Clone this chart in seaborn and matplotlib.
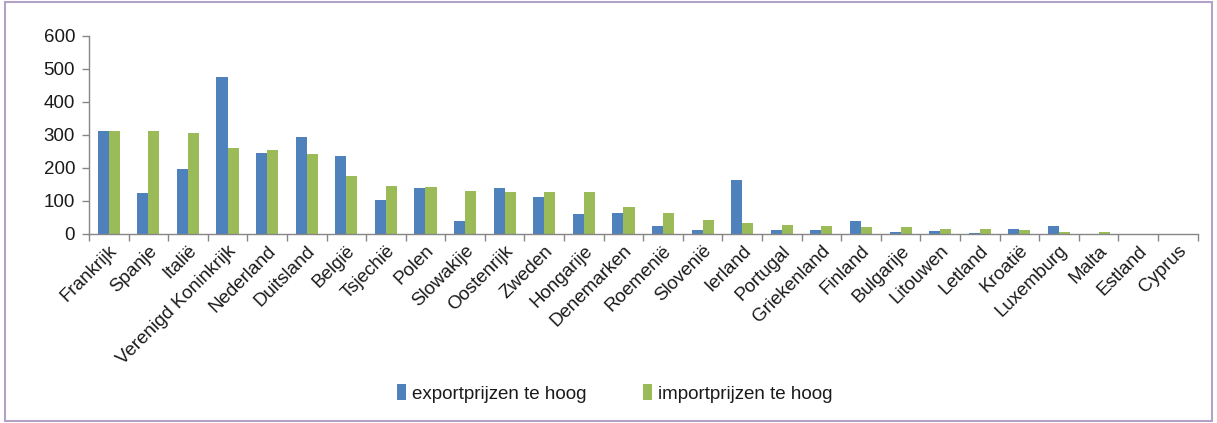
import matplotlib
matplotlib.use("Agg")
import matplotlib.pyplot as plt
import seaborn as sns
import pandas as pd
import numpy as np
from matplotlib.patches import Rectangle

countries = ["Frankrijk", "Spanje", "Italië", "Verenigd Koninkrijk", "Nederland", "Duitsland",
             "België", "Tsjechië", "Polen", "Slowakije", "Oostenrijk", "Zweden", "Hongarije",
             "Denemarken", "Roemenië", "Slovenië", "Ierland", "Portugal", "Griekenland",
             "Finland", "Bulgarije", "Litouwen", "Letland", "Kroatië", "Luxemburg", "Malta",
             "Estland", "Cyprus"]
export_vals = [311, 123, 197, 477, 245, 294, 236, 103, 139, 39, 139, 112, 61, 63, 24, 13,
               163, 13, 12, 38, 6, 8, 3, 15, 24, 0, 1, 0]
import_vals = [313, 312, 306, 261, 255, 242, 177, 146, 141, 129, 127, 127, 127, 83, 63, 41,
               33, 27, 24, 21, 20, 15, 15, 11, 6, 5, 1, 0]
series_names = ["exportprijzen te hoog", "importprijzen te hoog"]
yticks = [0, 100, 200, 300, 400, 500, 600]

df = pd.DataFrame({
    "land": countries * 2,
    "waarde": export_vals + import_vals,
    "reeks": [series_names[0]] * len(countries) + [series_names[1]] * len(countries),
})

sns.set_theme(style="white")
plt.rcParams["font.family"] = ["Liberation Sans", "DejaVu Sans"]

fig = plt.figure(figsize=(12.17, 4.23), dpi=100)
ax = fig.add_axes([0.0731, 0.447, 0.9109, 0.468])

sns.barplot(data=df, x="land", y="waarde", hue="reeks", order=countries,
            hue_order=series_names, palette=["#4F81BD", "#9BBB59"], saturation=1,
            width=0.56, edgecolor="none", linewidth=0, ax=ax, legend=True)

ax.set_ylim(0, 600)
ax.set_xlim(-0.5, len(countries) - 0.5)
ax.set_yticks(yticks)
ax.set_yticklabels([str(v) for v in yticks], fontsize=13.5, color="#1a1a1a")
ax.set_xlabel("")
ax.set_ylabel("")
ax.set_xticks(range(len(countries)))
ax.set_xticklabels(countries, rotation=45, ha="right", rotation_mode="anchor",
                   fontsize=13.5, color="#1a1a1a")
ax.tick_params(axis="x", which="major", length=0, pad=6)
ax.set_xticks(np.arange(-0.5, len(countries), 1.0), minor=True)
ax.tick_params(axis="x", which="minor", length=5, width=1, color="#868686", direction="out", bottom=True)
ax.tick_params(axis="y", length=5, width=1, color="#868686", direction="out", left=True, pad=5)

for s in ["top", "right"]:
    ax.spines[s].set_visible(False)
for s in ["left", "bottom"]:
    ax.spines[s].set_color("#868686")
    ax.spines[s].set_linewidth(1)

handles, labels = ax.get_legend_handles_labels()
ax.legend_.remove()
fig.legend(handles, labels, loc="center", bbox_to_anchor=(0.505, 0.07), ncol=2, frameon=False,
           fontsize=13.5, handlelength=0.5, handleheight=0.9, handletextpad=0.3, columnspacing=3.0,
           labelcolor="#1a1a1a")

fig.patches.append(Rectangle((0.004, 0.005), 0.992, 0.99, transform=fig.transFigure,
                             fill=False, edgecolor="#B3A2C7", linewidth=1.5))

fig.savefig("out.png", dpi=100)
